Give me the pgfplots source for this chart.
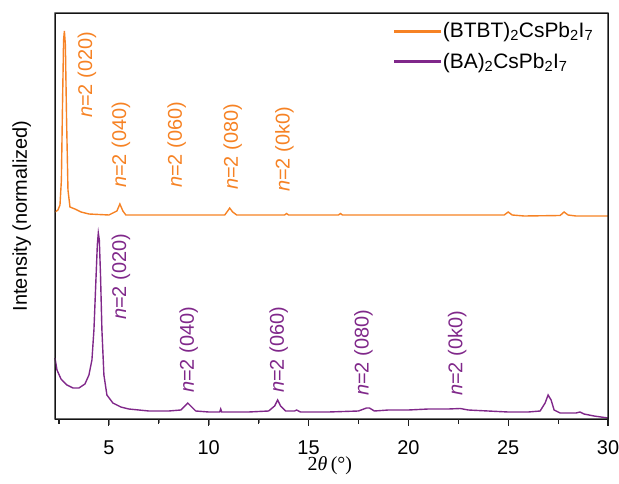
\documentclass[border=0pt]{standalone}
\usepackage{pgfplots}
\pgfplotsset{compat=1.18}
\usepackage{fontspec}
\setmainfont{Liberation Sans}
\newfontfamily\seriffont{Liberation Serif}
\definecolor{cor}{RGB}{246,130,36}
\definecolor{cpu}{RGB}{128,40,138}
\definecolor{axc}{RGB}{30,30,30}
\newcommand{\bigfont}{\fontsize{20}{24}\selectfont}
\begin{document}
\begin{tikzpicture}
\begin{axis}[
  scale only axis, width=553bp, height=406bp,
  clip=false,
  xmin=2.3, xmax=30, ymin=0, ymax=406,
  xtick={5,10,15,20,25,30}, minor x tick num=1,
  ytick=\empty, xtick pos=bottom, tick align=outside,
  major tick length=6bp, minor tick length=4bp,
  /pgf/number format/assume math mode=true,
  ticklabel style={font=\bigfont},
  xticklabel shift=12bp,
  xlabel={{\seriffont 2\textit{θ}\,(°)}},
  xlabel style={font=\bigfont, at={(axis description cs:0.497,-0.115)}, anchor=center},
  ylabel={Intensity (normalized)},
  ylabel style={font=\bigfont, at={(axis description cs:-0.06,0.5)}, anchor=center},
  legend style={draw=none, fill=none, font=\fontsize{21}{25}\selectfont, at={(axis description cs:0.979,0.984)}, anchor=north east, row sep=10bp, inner sep=1bp},
  legend cell align=left,
  legend image code/.code={\fill[#1] (0bp,-0.8bp) rectangle (46bp,0.8bp);},
]
\addplot[cor, line width=1.4pt] coordinates {
(2.3,207) (2.45,209) (2.55,214) (2.62,239) (2.68,319) (2.73,379) (2.77,388) (2.82,374) (2.88,299) (2.95,229) (3.05,212) (3.3,210) (3.6,207) (4.0,205) (5.0,204) (5.4,208) (5.55,215) (5.7,208) (5.85,204) (8,204) (10.8,204) (10.95,208) (11.05,211) (11.2,207) (11.4,204) (13.8,204) (13.9,205.5) (14.0,204) (16.5,204) (16.6,205.5) (16.7,204) (24.8,204) (25.0,207) (25.2,204) (25.8,203) (27.6,203.5) (27.8,207) (28.0,204) (28.4,203) (30,203)
};
\addlegendentry{(BTBT)\textsubscript{2}CsPb\textsubscript{2}I\textsubscript{7}}
\addplot[cpu, line width=1.4pt] coordinates {
(2.3,61) (2.4,49) (2.6,40) (2.9,34) (3.2,31) (3.5,31) (3.8,35) (4.0,44) (4.15,59) (4.25,89) (4.35,139) (4.42,174) (4.47,186) (4.52,179) (4.58,144) (4.65,89) (4.75,44) (4.9,24) (5.2,16) (5.6,12) (6.0,10) (7.0,8) (8.0,8) (8.6,9) (8.8,13) (8.95,16) (9.1,13) (9.35,8) (10.0,7) (10.55,7) (10.6,10) (10.65,7) (12.0,7) (13.0,8) (13.3,13) (13.45,19) (13.6,13) (13.85,8) (14.3,8) (14.4,9) (14.6,7) (16,7) (17.5,8) (17.9,11) (18.05,11) (18.3,8) (19,9) (20,9) (21,10) (22,10) (22.6,10.5) (23,9) (24,8) (25,7) (26,7) (26.6,8) (26.85,16) (27.0,24) (27.15,19) (27.3,9) (27.6,6) (28.4,6) (28.6,7) (28.8,5) (29.3,3) (30,1)
};
\addlegendentry{(BA)\textsubscript{2}CsPb\textsubscript{2}I\textsubscript{7}}
\pgfplotsinvokeforeach{5,10,15,20,25,30}{\fill[axc] ([shift={(-0.55bp,0bp)}]axis cs:#1,0) rectangle ([shift={(0.55bp,-6.5bp)}]axis cs:#1,0);}
\pgfplotsinvokeforeach{2.5,7.5,12.5,17.5,22.5,27.5}{\fill[axc] ([shift={(-0.55bp,0bp)}]axis cs:#1,0) rectangle ([shift={(0.55bp,-4.5bp)}]axis cs:#1,0);}
\begin{scope}[every node/.style={rotate=90, anchor=west, inner sep=0pt, font=\bigfont}]
\node[text=cor] at (axis cs:3.9,301) {\textit{n}=2 (020)};
\node[text=cor] at (axis cs:5.6,231) {\textit{n}=2 (040)};
\node[text=cor] at (axis cs:8.4,231) {\textit{n}=2 (060)};
\node[text=cor] at (axis cs:11.2,229) {\textit{n}=2 (080)};
\node[text=cor] at (axis cs:13.8,227) {\textit{n}=2 (0k0)};
\node[text=cpu] at (axis cs:5.6,99) {\textit{n}=2 (020)};
\node[text=cpu] at (axis cs:9.0,26) {\textit{n}=2 (040)};
\node[text=cpu] at (axis cs:13.5,26) {\textit{n}=2 (060)};
\node[text=cpu] at (axis cs:17.75,23) {\textit{n}=2 (080)};
\node[text=cpu] at (axis cs:22.45,23) {\textit{n}=2 (0k0)};
\end{scope}
\end{axis}
\fill[axc, even odd rule] ([shift={(-0.6bp,-0.6bp)}]current axis.south west) rectangle ([shift={(0.6bp,0.6bp)}]current axis.north east) ([shift={(0.6bp,0.6bp)}]current axis.south west) rectangle ([shift={(-0.6bp,-0.6bp)}]current axis.north east);
\pgfresetboundingbox
\path[use as bounding box] ([shift={(-55bp,-65bp)}]current axis.south west) rectangle ([shift={(11bp,13bp)}]current axis.north east);
\end{tikzpicture}
\end{document}
